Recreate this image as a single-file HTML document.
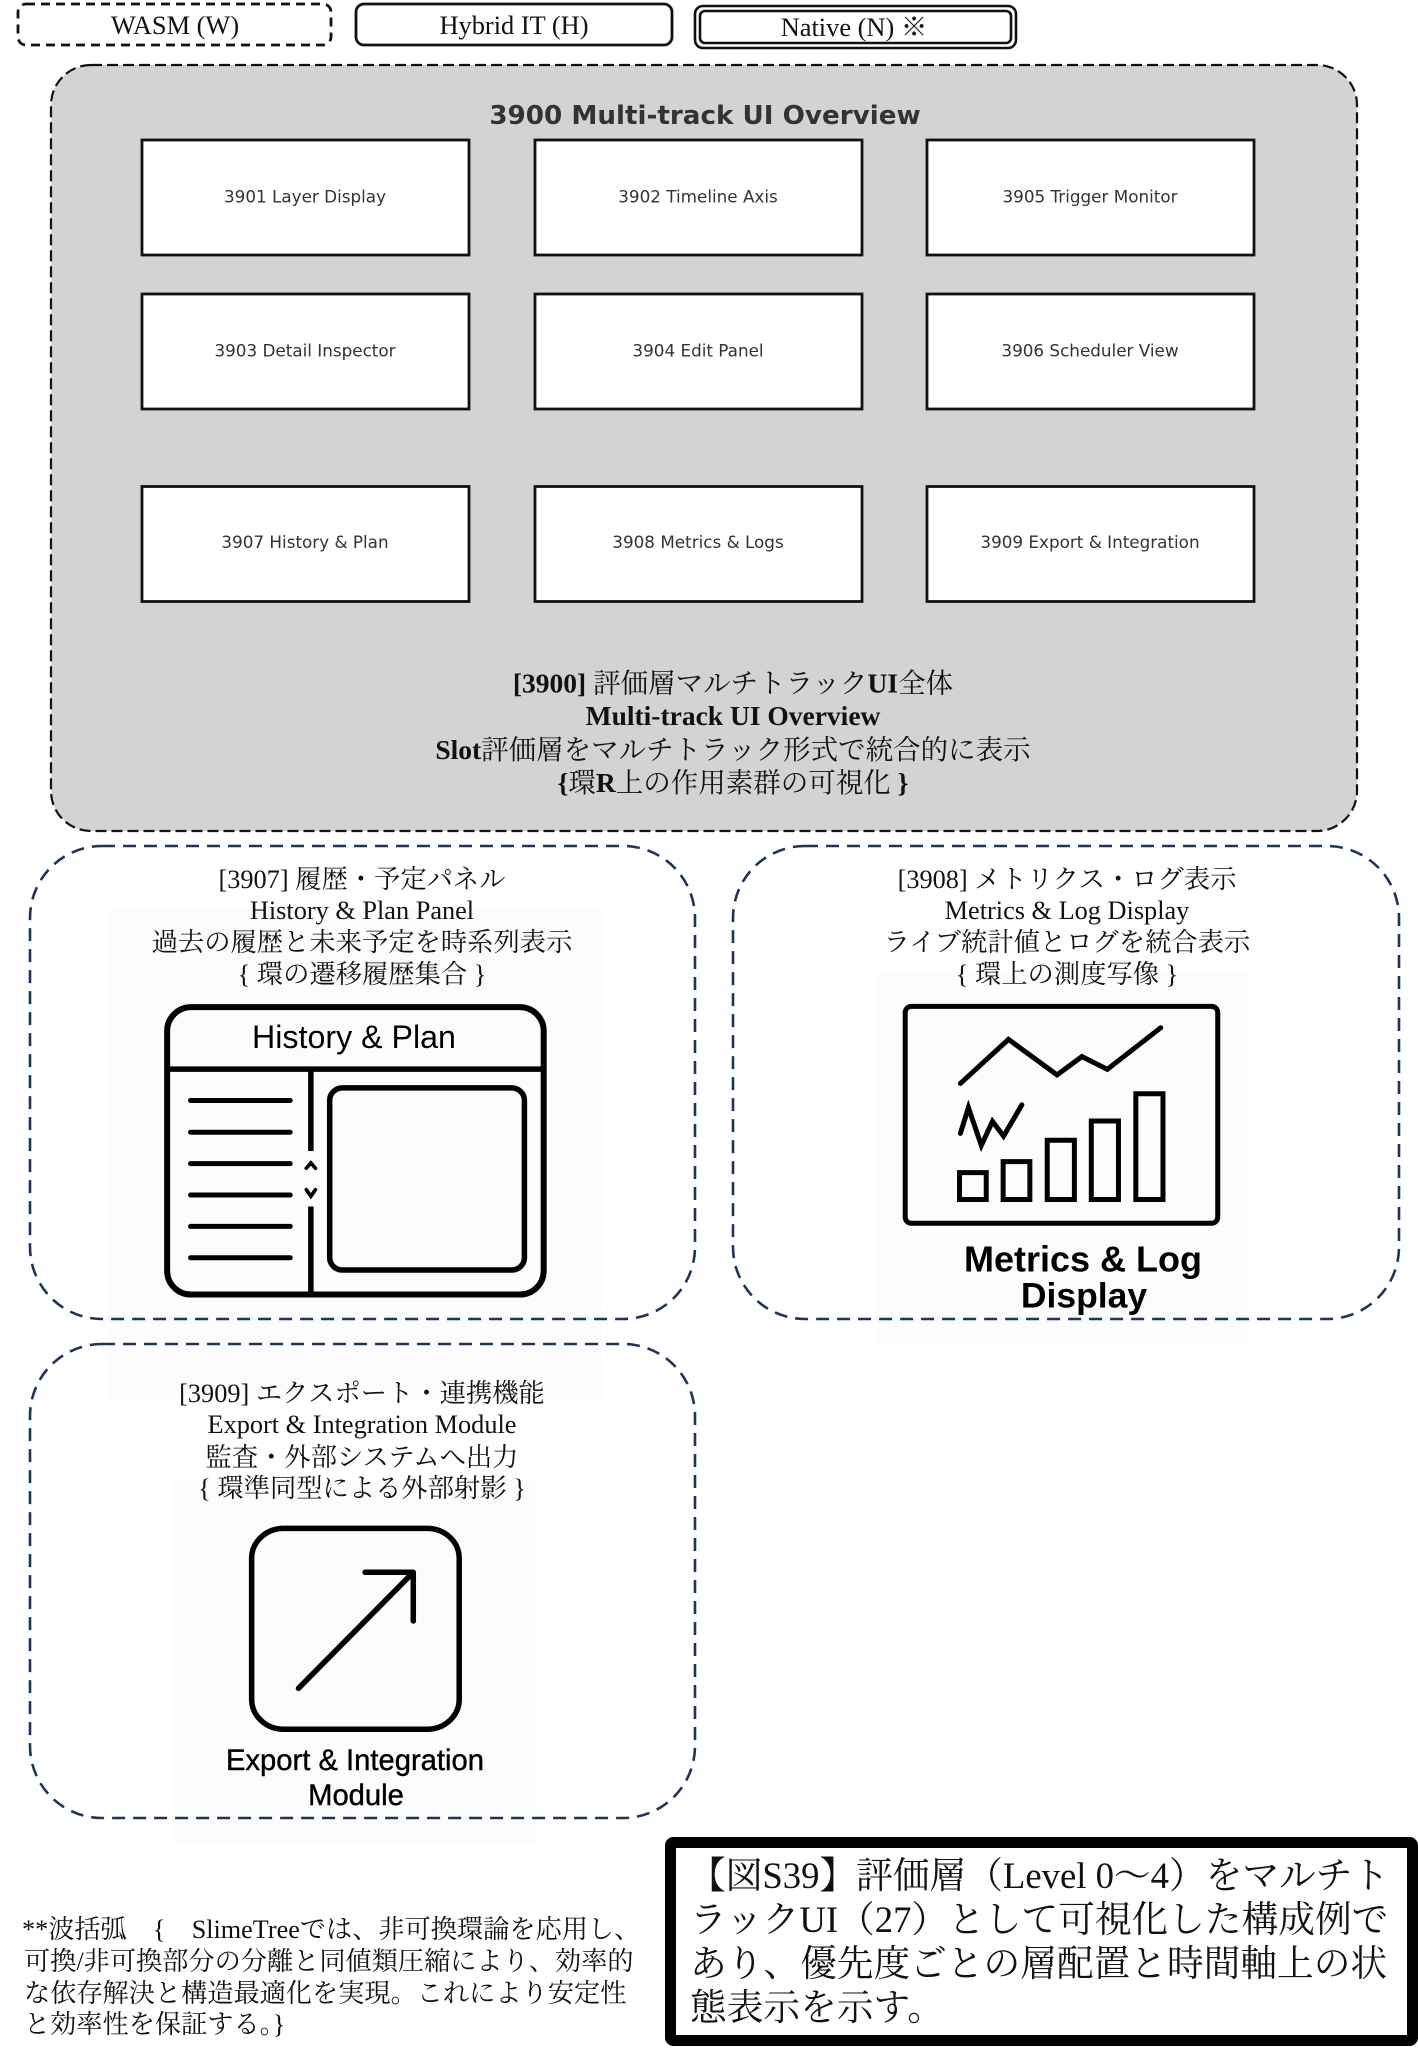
<!DOCTYPE html>
<html lang="ja">
<head>
<meta charset="utf-8">
<title>Multi-track UI Overview</title>
<style>
html,body{margin:0;padding:0;background:#fff;width:1418px;height:2048px;overflow:hidden}
svg{display:block}
.s{font-family:"Liberation Serif","Noto Serif CJK JP","Noto Serif CJK SC",serif;fill:#111}
.d{font-family:"DejaVu Sans",sans-serif;fill:#333}
.a{font-family:"Liberation Sans",sans-serif;fill:#000}
.m{text-anchor:middle}
.nb{fill:#fff;stroke:#111;stroke-width:2.8}
.p{fill:none;stroke:#1f3557;stroke-width:2.6;stroke-dasharray:13 8}
.v{vector-effect:non-scaling-stroke}
</style>
</head>
<body>
<svg xmlns="http://www.w3.org/2000/svg" width="1418" height="2048" viewBox="0 0 1418 2048">
<rect width="1418" height="2048" fill="#fff"/>

<!-- legend -->
<rect x="18" y="4" width="313" height="41" rx="8" fill="#fff" stroke="#111" stroke-width="2.8" stroke-dasharray="9 6"/>
<text class="s m" x="175" y="34" font-size="26.4">WASM (W)</text>
<rect x="356" y="4" width="316" height="41" rx="8" fill="#fff" stroke="#111" stroke-width="2.8"/>
<text class="s m" x="514" y="34" font-size="26.4">Hybrid IT (H)</text>
<rect x="695" y="6" width="321" height="42" rx="8" fill="#fff" stroke="#111" stroke-width="2.6"/>
<rect x="700" y="11" width="311" height="32" rx="5" fill="#fff" stroke="#111" stroke-width="2.6"/>
<text class="s m" x="854" y="36" font-size="26.4">Native (N) ※</text>

<!-- main container -->
<rect x="51" y="65" width="1306" height="766" rx="40" fill="#d3d3d3" stroke="#111" stroke-width="2.2" stroke-dasharray="11 5"/>
<text class="d m" x="705" y="124" font-size="26.2" font-weight="700">3900 Multi-track UI Overview</text>

<rect class="nb" x="142" y="140" width="327" height="115"/>
<text class="d m" x="305" y="202.5" font-size="16.8">3901 Layer Display</text>
<rect class="nb" x="535" y="140" width="327" height="115"/>
<text class="d m" x="698" y="202.5" font-size="16.8">3902 Timeline Axis</text>
<rect class="nb" x="927" y="140" width="327" height="115"/>
<text class="d m" x="1090" y="202.5" font-size="16.8">3905 Trigger Monitor</text>

<rect class="nb" x="142" y="294" width="327" height="115"/>
<text class="d m" x="305" y="356.5" font-size="16.8">3903 Detail Inspector</text>
<rect class="nb" x="535" y="294" width="327" height="115"/>
<text class="d m" x="698" y="356.5" font-size="16.8">3904 Edit Panel</text>
<rect class="nb" x="927" y="294" width="327" height="115"/>
<text class="d m" x="1090" y="356.5" font-size="16.8">3906 Scheduler View</text>

<rect class="nb" x="142" y="486.5" width="327" height="115"/>
<text class="d m" x="305" y="548" font-size="16.8">3907 History &amp; Plan</text>
<rect class="nb" x="535" y="486.5" width="327" height="115"/>
<text class="d m" x="698" y="548" font-size="16.8">3908 Metrics &amp; Logs</text>
<rect class="nb" x="927" y="486.5" width="327" height="115"/>
<text class="d m" x="1090" y="548" font-size="16.8">3909 Export &amp; Integration</text>

<text class="s m" x="733" y="692.5" font-size="27.5"><tspan font-weight="700">[3900] </tspan>評価層マルチトラック<tspan font-weight="700">UI</tspan>全体</text>
<text class="s m" x="733" y="725" font-size="27.5" font-weight="700">Multi-track UI Overview</text>
<text class="s m" x="733" y="759" font-size="27.5"><tspan font-weight="700">Slot</tspan>評価層をマルチトラック形式で統合的に表示</text>
<text class="s m" x="733" y="792" font-size="27.5"><tspan font-weight="700">{</tspan>環<tspan font-weight="700">R</tspan>上の作用素群の可視化<tspan font-weight="700"> }</tspan></text>

<!-- image backgrounds -->
<rect x="109" y="907" width="493" height="493" fill="#fcfcfc"/>
<rect x="876" y="973" width="371" height="370" fill="#fcfcfc"/>
<rect x="174" y="1480" width="363" height="363" fill="#fcfcfc"/>

<!-- panels -->
<rect class="p" x="30" y="846" width="665" height="473" rx="72"/>
<rect class="p" x="733" y="846" width="666" height="473" rx="72"/>
<rect class="p" x="30" y="1344" width="665" height="474" rx="72"/>

<!-- 3907 text -->
<text class="s m" x="362" y="888" font-size="26.3">[3907] 履歴・予定パネル</text>
<text class="s m" x="362" y="919" font-size="26.3">History &amp; Plan Panel</text>
<text class="s m" x="362" y="951" font-size="26.3">過去の履歴と未来予定を時系列表示</text>
<text class="s m" x="362" y="983" font-size="26.3">{ 環の遷移履歴集合 }</text>

<!-- 3907 icon -->
<g transform="translate(0 820) scale(.4592 .3827)" fill="none" stroke="#000" stroke-linecap="round">
<rect class="v" x="364" y="489" width="820" height="751" rx="52" ry="62" stroke-width="6"/>
<path class="v" d="M364 651H1184" stroke-width="5.5" stroke-linecap="butt"/>
<path class="v" d="M677 651V865M677 1010V1240" stroke-width="5.5" stroke-linecap="butt"/>
<rect class="v" x="718" y="700" width="424" height="476" rx="28" ry="32" stroke-width="5.5"/>
<path class="v" d="M415 733H632M415 816H632M415 898H632M415 980H632M415 1062H632M415 1144H632" stroke-width="5"/>
<path class="v" d="M667 910L677 896L687 910M667 966L677 983L687 966" stroke-width="3.6"/>
</g>
<text class="a m" x="354" y="1048" font-size="32.2">History &amp; Plan</text>

<!-- 3908 text -->
<text class="s m" x="1067" y="888" font-size="26.3">[3908] メトリクス・ログ表示</text>
<text class="s m" x="1067" y="919" font-size="26.3">Metrics &amp; Log Display</text>
<text class="s m" x="1067" y="951" font-size="26.3">ライブ統計値とログを統合表示</text>
<text class="s m" x="1067" y="983" font-size="26.3">{ 環上の測度写像 }</text>

<!-- 3908 icon -->
<g transform="translate(720 820) scale(.4452 .3444)" fill="none" stroke="#000" stroke-linecap="round" stroke-linejoin="miter">
<rect class="v" x="416" y="541" width="702" height="630" rx="14" ry="18" stroke-width="5"/>
<polyline class="v" points="540,765 648,637 757,740 813,687 870,724 990,603" stroke-width="5"/>
<polyline class="v" points="540,910 558,835 587,945 612,875 637,918 678,827" stroke-width="5"/>
<rect class="v" x="538" y="1024" width="60" height="78" stroke-width="5"/>
<rect class="v" x="636" y="992" width="60" height="110" stroke-width="5"/>
<rect class="v" x="735" y="930" width="61" height="172" stroke-width="5"/>
<rect class="v" x="834" y="874" width="61" height="228" stroke-width="5"/>
<rect class="v" x="934" y="795" width="61" height="307" stroke-width="5"/>
</g>
<text class="a m" x="1083" y="1271.5" font-size="36" font-weight="700">Metrics &amp; Log</text>
<text class="a m" x="1084" y="1307.5" font-size="35.5" font-weight="700">Display</text>

<!-- 3909 text -->
<text class="s m" x="362" y="1402" font-size="26.3">[3909] エクスポート・連携機能</text>
<text class="s m" x="362" y="1433" font-size="26.3">Export &amp; Integration Module</text>
<text class="s m" x="362" y="1466" font-size="26.3">監査・外部システムへ出力</text>
<text class="s m" x="362" y="1497" font-size="26.3">{ 環準同型による外部射影 }</text>

<!-- 3909 icon -->
<g transform="translate(0 1340) scale(.4592 .3333)" fill="none" stroke="#000" stroke-linecap="round" stroke-linejoin="round">
<rect class="v" x="548" y="565" width="452" height="603" rx="70" ry="90" stroke-width="5.5"/>
<path class="v" d="M650 1045L900 697M795 697H900V843" stroke-width="5.5"/>
</g>
<text class="a m" x="355" y="1770" font-size="29.2" stroke="#000" stroke-width=".4">Export &amp; Integration</text>
<text class="a m" x="356" y="1805" font-size="29.2" stroke="#000" stroke-width=".4">Module</text>

<!-- footnote -->
<text class="s" x="22" y="1938" font-size="26.2" xml:space="preserve">**波括弧　{　SlimeTreeでは、非可換環論を応用し、</text>
<text class="s" x="24" y="1970" font-size="26.2">可換/非可換部分の分離と同値類圧縮により、効率的</text>
<text class="s" x="24" y="2002" font-size="26.2">な依存解決と構造最適化を実現。これにより安定性</text>
<text class="s" x="24" y="2033" font-size="26.2">と効率性を保証する。}</text>

<!-- caption -->
<rect x="670.5" y="1842.5" width="742" height="198" rx="3" fill="#fff" stroke="#000" stroke-width="11"/>
<text class="s" x="689" y="1888" font-size="36.7">【図S39】評価層（Level 0～4）をマルチト</text>
<text class="s" x="690" y="1932" font-size="36.7">ラックUI（27）として可視化した構成例で</text>
<text class="s" x="690" y="1976" font-size="36.7">あり、優先度ごとの層配置と時間軸上の状</text>
<text class="s" x="690" y="2020" font-size="36.7">態表示を示す。</text>
</svg>
</body>
</html>
